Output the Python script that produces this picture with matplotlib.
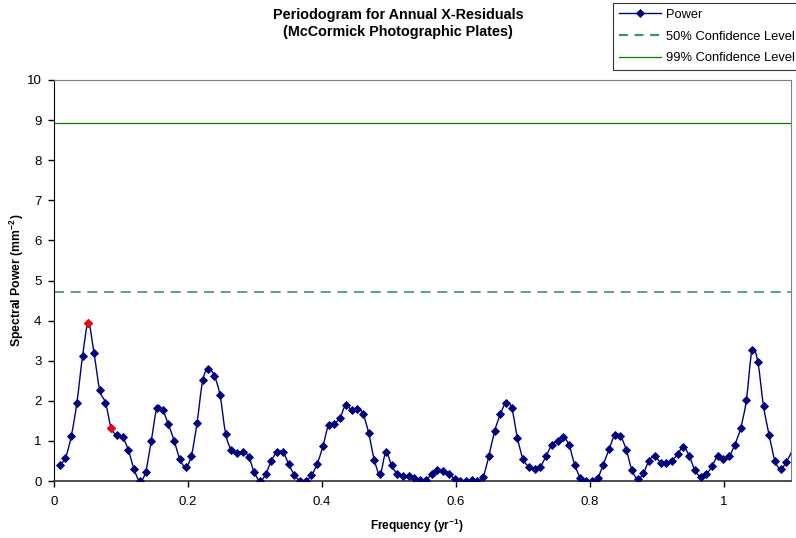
import matplotlib
matplotlib.use("Agg")
import matplotlib.pyplot as plt
import numpy as np
from matplotlib.path import Path
from matplotlib.patches import PathPatch
from matplotlib.lines import Line2D

plt.rcParams["font.family"] = ["Liberation Sans", "DejaVu Sans"]
plt.rcParams["mathtext.default"] = "regular"

# periodogram of the annual X residuals, evenly spaced frequencies (1/yr)
DF = 0.00854
power = [0.40, 0.58, 1.11, 1.95, 3.12, 3.94, 3.18, 2.26, 1.95, 1.32,
         1.14, 1.09, 0.77, 0.29, 0.00, 0.22, 1.00, 1.83, 1.76, 1.41,
         1.00, 0.55, 0.35, 0.63, 1.45, 2.52, 2.79, 2.63, 2.15, 1.18,
         0.77, 0.70, 0.73, 0.61, 0.22, 0.00, 0.17, 0.51, 0.72, 0.72,
         0.43, 0.15, 0.01, 0.01, 0.14, 0.43, 0.87, 1.40, 1.43, 1.58,
         1.90, 1.76, 1.80, 1.68, 1.19, 0.52, 0.17, 0.72, 0.39, 0.17,
         0.12, 0.12, 0.07, 0.03, 0.03, 0.17, 0.27, 0.24, 0.17, 0.06,
         0.00, 0.00, 0.03, 0.00, 0.11, 0.62, 1.24, 1.66, 1.95, 1.82,
         1.07, 0.54, 0.36, 0.29, 0.36, 0.62, 0.90, 1.00, 1.09, 0.90,
         0.41, 0.08, 0.00, 0.00, 0.07, 0.41, 0.79, 1.14, 1.12, 0.78,
         0.28, 0.05, 0.19, 0.51, 0.62, 0.46, 0.45, 0.51, 0.67, 0.85,
         0.63, 0.27, 0.11, 0.17, 0.37, 0.62, 0.55, 0.62, 0.91, 1.32,
         2.01, 3.26, 2.97, 1.87, 1.14, 0.51, 0.30, 0.48, 0.75]
freq = DF * np.arange(1, len(power) + 1)
highlight = [5, 9]          # indices of the flagged peaks (drawn red)
conf50 = 4.71
conf99 = 8.93

NAVY = "#000080"
MS = 4.0

fig = plt.figure(figsize=(7.96, 5.38), dpi=100)
ax = fig.add_axes([54/796, 1 - 481/538, (791 - 54)/796, (481 - 80)/538])

# smoothed line through the points (Catmull-Rom style cubic Beziers)
p = np.column_stack([freq, power])
verts = [p[0]]
codes = [Path.MOVETO]
n = len(p)
for i in range(n - 1):
    p0 = p[i - 1] if i > 0 else p[i]
    p1, p2 = p[i], p[i + 1]
    p3 = p[i + 2] if i + 2 < n else p[i + 1]
    verts += [p1 + (p2 - p0) / 6, p2 - (p3 - p1) / 6, p2]
    codes += [Path.CURVE4] * 3
ax.add_patch(PathPatch(Path(verts, codes), fill=False, edgecolor=NAVY, lw=1.0, zorder=3))

vis = freq <= 1.1
ax.plot(freq[vis], np.array(power)[vis], ls="none", marker="D", ms=MS, mew=0.6,
        color=NAVY, zorder=4)
ax.plot(freq[highlight], np.array(power)[highlight], ls="none", marker="D", ms=MS,
        mew=0.6, color="#ff0000", zorder=5)

ax.axhline(conf50, color="#339966", lw=1.2, ls=(0, (6, 4)), zorder=2)
ax.axhline(conf99, color="#008000", lw=0.9, zorder=2)

ax.set_xlim(0, 1.1)
ax.set_ylim(0, 10)
ax.set_xticks([0, 0.2, 0.4, 0.6, 0.8, 1.0])
ax.set_xticklabels(["0", "0.2", "0.4", "0.6", "0.8", "1"])
ax.set_yticks(range(11))
ax.tick_params(labelsize=9.5, length=4, width=1, direction="out", pad=5)
ax.tick_params(axis="x", pad=7)
for s in ("top", "right"):
    ax.spines[s].set_color("#808080")
ax.spines["left"].set_color("black")
ax.spines["bottom"].set_color("#404040")
ax.spines["bottom"].set_linewidth(1.3)

fig.text(0.5, 1 - 8/538, "Periodogram for Annual X-Residuals\n(McCormick Photographic Plates)",
         ha="center", va="top", fontsize=10.4, fontweight="bold", linespacing=1.3)
fig.text(417/796, 1 - 526/538, r"Frequency (yr$^{-1}$)", ha="center", va="center",
         fontsize=8.6, fontweight="bold")
fig.text(17/796, 1 - 280/538, r"Spectral Power (mm$^{-2}$)", ha="center", va="center",
         rotation=90, fontsize=8.8, fontweight="bold")

handles = [Line2D([], [], color=NAVY, lw=1.0, marker="D", ms=MS, mew=0.6),
           Line2D([], [], color="#339966", lw=1.6, ls=(0, (4, 3))),
           Line2D([], [], color="#008000", lw=0.9)]
labels = ["Power", "50% Confidence Level", "99% Confidence Level"]
leg = fig.legend(handles, labels, loc="upper left", bbox_to_anchor=(613/796, 1 - 3/538),
                 fontsize=9.3, frameon=True, fancybox=False, shadow=False,
                 handlelength=3.3, handletextpad=0.35, labelspacing=0.75,
                 borderpad=0.45, borderaxespad=0, numpoints=1)
leg.get_frame().set_edgecolor("black")
leg.get_frame().set_linewidth(0.8)

fig.savefig("out.png", dpi=100)
